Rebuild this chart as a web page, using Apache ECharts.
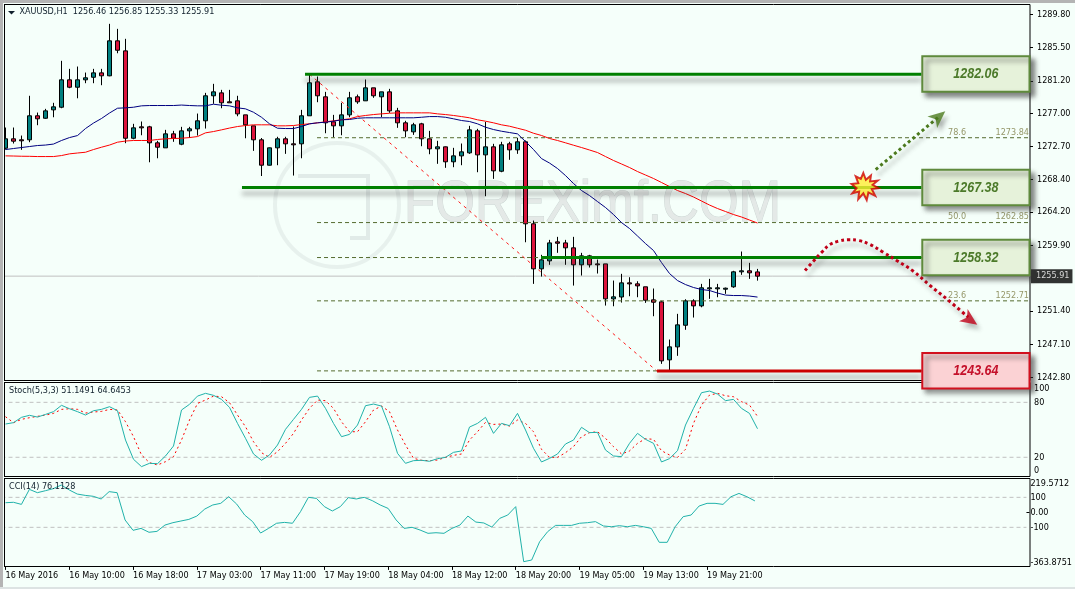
<!DOCTYPE html>
<html>
<head>
<meta charset="utf-8">
<title>XAUUSD H1</title>
<script src="https://cdn.jsdelivr.net/npm/echarts@6/dist/echarts.min.js"></script>
<style>
html,body{margin:0;padding:0;background:#f5fffa;overflow:hidden}
#chart{width:1075px;height:589px}
</style>
</head>
<body>
<div id="chart"></div>
<script>
// Hourly XAUUSD candles
const opens = [1272.48,1273.70,1273.57,1273.57,1276.68,1276.36,1277.45,1277.79,1281.34,1280.38,
1281.34,1281.67,1282.24,1281.86,1286.39,1285.09,1273.77,1275.25,1275.25,1273.18,
1272.53,1274.34,1273.00,1274.73,1274.99,1276.03,1279.27,1279.65,1278.49,1278.62,
1276.80,1275.38,1273.57,1270.28,1272.53,1273.70,1273.05,1273.05,1276.68,1281.08,
1279.14,1275.90,1275.38,1276.80,1279.14,1278.62,1280.30,1279.14,1279.78,1277.32,
1275.77,1274.60,1275.64,1273.70,1272.40,1272.66,1270.72,1271.49,1271.88,1274.73,
1271.62,1272.66,1269.50,1273.05,1272.27,1273.31,1262.69,1256.86,1257.89,1260.35,
1260.22,1259.58,1257.38,1258.54,1257.50,1257.50,1252.97,1253.21,1255.04,1254.91,
1254.53,1252.84,1252.58,1245.07,1246.75,1249.55,1252.71,1252.06,1254.27,1254.27,
1254.22,1254.53,1256.47,1256.60,1256.46];
const closes = [1273.70,1273.39,1273.44,1276.68,1276.29,1277.32,1277.84,1281.34,1280.38,1281.34,
1281.60,1282.24,1281.86,1286.39,1285.17,1273.77,1275.12,1275.12,1273.18,1272.61,
1274.34,1273.77,1274.73,1274.99,1276.03,1279.27,1279.78,1278.36,1278.36,1276.93,
1275.51,1273.57,1270.28,1272.53,1273.70,1273.05,1272.92,1276.68,1280.95,1279.27,
1275.77,1275.38,1276.80,1279.01,1278.49,1280.30,1279.27,1279.78,1277.32,1275.77,
1274.73,1275.51,1273.70,1272.40,1272.66,1270.72,1271.49,1272.01,1274.86,1271.62,
1272.66,1269.55,1272.92,1272.27,1273.31,1262.69,1256.86,1258.02,1260.22,1260.17,
1259.58,1257.38,1258.54,1257.38,1257.38,1252.97,1253.23,1255.04,1254.91,1254.65,
1252.79,1252.53,1244.94,1246.75,1249.60,1252.71,1252.06,1254.40,1254.40,1254.40,
1254.35,1256.47,1256.60,1256.34,1255.91];
const lows = [1272.31,1273.09,1272.27,1273.26,1275.46,1276.29,1276.49,1277.66,1280.25,1278.95,
1280.90,1280.90,1280.64,1281.80,1284.78,1273.13,1273.64,1274.16,1270.66,1271.18,
1272.53,1273.31,1272.87,1273.83,1274.12,1275.03,1278.23,1277.66,1278.36,1276.62,
1273.77,1272.14,1268.88,1270.24,1270.28,1271.75,1268.94,1271.18,1276.68,1278.44,
1274.42,1273.90,1274.16,1276.49,1278.23,1278.60,1279.01,1276.49,1277.06,1275.12,
1273.90,1274.21,1272.74,1271.70,1270.46,1269.94,1270.02,1270.28,1271.75,1269.37,
1266.26,1268.51,1269.37,1270.98,1271.75,1260.30,1254.91,1255.86,1257.38,1258.93,
1257.38,1254.69,1255.99,1257.03,1256.25,1252.10,1252.01,1252.49,1253.31,1253.18,
1252.45,1250.72,1244.55,1243.64,1245.59,1248.96,1250.55,1251.88,1252.97,1253.18,
1253.62,1254.40,1256.08,1255.56,1255.33];
const highs = [1275.16,1275.16,1274.12,1279.27,1277.10,1277.58,1278.36,1283.80,1282.76,1283.06,
1282.28,1282.76,1282.76,1288.59,1287.94,1286.65,1275.64,1275.94,1275.38,1273.44,
1274.86,1274.73,1275.25,1275.25,1276.97,1279.65,1280.82,1280.04,1280.04,1279.27,
1276.80,1275.38,1273.80,1272.57,1273.96,1273.96,1275.29,1277.45,1282.06,1281.77,
1279.78,1276.80,1278.36,1279.78,1279.43,1281.38,1280.30,1279.78,1280.17,1277.71,
1276.03,1275.77,1275.77,1274.73,1273.44,1272.70,1272.53,1273.09,1275.38,1274.99,
1275.90,1273.05,1273.31,1273.31,1273.83,1273.48,1263.11,1258.67,1260.61,1261.00,
1260.61,1261.00,1258.93,1258.67,1258.06,1257.50,1255.34,1256.21,1255.77,1255.25,
1254.53,1254.31,1252.71,1247.70,1251.03,1252.92,1252.92,1254.91,1255.56,1254.91,
1254.43,1256.60,1259.10,1257.63,1256.85];

// Moving averages on price
const maFast = [1272.31,1272.44,1272.57,1272.70,1272.83,1272.89,1273.02,1273.48,1273.86,1274.12,
1275.03,1275.74,1276.33,1277.04,1277.66,1277.71,1277.79,1277.97,1278.01,1278.01,
1278.01,1278.01,1278.07,1278.01,1277.97,1277.97,1278.18,1278.05,1277.97,1277.71,
1277.58,1277.14,1276.49,1275.64,1275.07,1275.03,1275.03,1275.29,1275.64,1275.77,
1275.85,1275.98,1276.16,1276.20,1276.36,1276.42,1276.42,1276.42,1276.42,1276.42,
1276.42,1276.42,1276.49,1276.58,1276.58,1276.49,1276.29,1276.07,1275.94,1275.64,
1275.20,1274.90,1274.68,1274.51,1274.34,1273.35,1272.31,1271.14,1270.56,1269.85,
1268.94,1267.91,1267.00,1266.35,1265.57,1264.80,1263.89,1262.85,1262.08,1261.11,
1260.13,1259.23,1257.67,1256.25,1255.34,1254.82,1254.44,1254.18,1254.05,1253.72,
1253.46,1253.40,1253.40,1253.33,1253.20];
const maSlow = [1271.49,1271.47,1271.44,1271.43,1271.40,1271.40,1271.40,1271.53,1271.75,1271.86,
1271.96,1272.31,1272.61,1272.89,1273.26,1273.41,1273.48,1273.48,1273.48,1273.61,
1273.70,1273.74,1273.77,1273.86,1273.99,1274.47,1274.64,1274.86,1275.09,1275.29,
1275.42,1275.51,1275.51,1275.51,1275.38,1275.38,1275.42,1275.55,1275.64,1275.77,
1275.90,1276.03,1276.16,1276.29,1276.58,1276.72,1276.84,1276.93,1277.01,1277.06,
1277.06,1277.06,1277.06,1277.06,1276.93,1276.84,1276.72,1276.58,1276.42,1276.16,
1275.98,1275.77,1275.51,1275.33,1275.07,1274.81,1274.42,1274.13,1273.74,1273.48,
1273.18,1272.87,1272.57,1272.25,1271.92,1271.40,1270.89,1270.44,1269.98,1269.46,
1269.01,1268.56,1268.04,1267.52,1267.00,1266.61,1266.16,1265.64,1265.12,1264.67,
1264.28,1263.89,1263.57,1263.18,1262.79];

// Stochastic(5,3,3)
const stochMain = [56.3,57.8,63.6,65.8,63.9,66.8,69.8,76.7,73.0,69.8,
66.1,70.8,72.3,75.2,70.8,38.8,17.8,9.8,13.4,13.0,
21.4,32.3,71.6,77.8,86.8,89.8,87.6,83.2,74.5,57.0,
40.7,23.6,16.7,22.5,33.4,50.5,61.4,72.3,85.4,86.8,
73.4,57.0,42.5,45.0,55.2,76.3,78.1,75.9,53.4,24.3,
13.4,16.3,16.7,15.6,18.5,19.9,25.4,26.9,53.0,57.0,
63.6,46.1,57.0,54.5,67.9,49.8,29.8,14.9,18.8,23.6,
34.5,38.8,52.7,46.9,47.2,27.9,21.4,20.7,35.2,46.1,
39.6,35.2,14.9,18.5,27.2,55.2,73.4,90.5,92.3,89.0,
81.8,83.2,73.4,67.9,51.15];
const stochSignal = [64.3,57.8,61.4,63.2,64.7,66.1,67.9,72.3,73.0,72.3,
68.3,69.4,70.1,72.3,71.6,58.8,42.5,22.5,14.1,11.6,
15.2,20.7,38.8,60.7,78.8,82.5,86.8,86.1,79.6,66.1,
53.4,37.0,25.0,19.9,26.1,35.2,46.1,60.7,73.4,82.5,
81.8,73.4,58.8,47.9,47.9,58.8,71.6,75.9,69.8,49.8,
33.4,18.9,16.7,16.3,17.0,19.9,22.1,23.6,38.8,47.9,
58.1,55.9,56.3,54.1,60.7,57.0,47.9,28.7,19.9,19.9,
25.0,31.6,42.5,46.9,47.9,40.7,31.6,23.6,26.9,35.2,
40.3,39.6,27.2,22.5,19.9,28.7,57.0,77.0,87.9,89.8,
87.2,86.1,80.7,77.0,64.65];

// CCI(14)
const cciValues = [64,67,53,153,131,144,158,182,149,122,
113,107,89,138,131,-51,-120,-107,-133,-127,
-85,-69,-58,-47,-25,22,49,60,104,55,
-18,-62,-138,-107,-73,-67,-73,4,100,93,
38,9,38,98,89,100,78,49,26,-51,
-107,-100,-118,-140,-136,-140,-107,-85,-25,-65,
-71,-98,-40,-18,38,-329,-318,-196,-129,-87,
-87,-87,-73,-69,-62,-91,-96,-89,-96,-87,
-96,-107,-200,-200,-96,-29,-18,42,60,60,
53,104,126,104,76.11];

// Axis ticks and time labels
const priceTicks = [1289.80,1285.50,1281.20,1277.00,1272.70,1268.40,1264.20,1259.90,1251.40,1247.10,1242.80];
const stochTicks = [0,20,80,100];
const cciTicks = [-363.8751,-100,0,100,219.5712];
const timeLabels = ['16 May 2016','16 May 10:00','16 May 18:00','17 May 03:00','17 May 11:00','17 May 19:00',
  '18 May 04:00','18 May 12:00','18 May 20:00','19 May 05:00','19 May 13:00','19 May 21:00'];

// Support and resistance levels, with the bar where each starts
const levelPrices = [1282.06,1267.38,1258.32,1243.64];
const levelStartBars = [37.44,29.56,66.94,81.44];
const levelEndBar = 114.5;
const boxRightBar = 128.0;
const frameRightBar = 128.06;

// Fibonacci retracement
const fibPrices = [1273.84,1262.85,1258.32,1252.71,1243.64];
const fibStartBar = 38.94;
const fibLabels = [['78.6',1273.84],['50.0',1262.85],['23.6',1252.71]];
const fibTrendBars = [38,81.4];
const fibTrendPrices = [1282.06,1243.64];

// Scenario arrows
const upArrowBars = [108.78,116.56];
const upArrowPrices = [1269.72,1276.46];
const downArrowBars = [99.94,100.98,102.03,103.06,104.1,105.35,106.6,108.06,109.72,111.4,113.48,115.56,117.65,120.35];
const downArrowPrices = [1256.64,1257.84,1259.01,1260.01,1260.43,1260.62,1260.53,1260.01,1259.01,1257.93,1256.55,1254.70,1252.97,1250.59];
const burstAt = [107.44,1267.52];
const lastPrice = 1255.91;

const FONT = '"DejaVu Sans Condensed", "Liberation Sans", Arial, sans-serif';
const BOX_FONT = '"Liberation Sans", Arial, sans-serif';
const AXIS_SIZE = 9;
const barNames = Array.from({length:129},(_,i)=>String(i));
const pair = (xs,ys)=>xs.map((x,i)=>[x,ys[i]]);
const seq = ys=>ys.map((y,i)=>[i,y]);

const valueX = (gridIndex, extra) => Object.assign({
  type:'value', gridIndex, min:-0.5, max:128.5, show:false, splitLine:{show:false}, axisLine:{show:false,onZero:false}
}, extra || {});

function segment(xAxisIndex, yAxisIndex, data, lineStyle, z) {
  return {type:'line', xAxisIndex, yAxisIndex, data, symbol:'none', silent:true, lineStyle, z: z || 3};
}

const series = [];

// Guides and price marks, back to front
series.push(segment(1,0,[[-0.5,lastPrice],[frameRightBar,lastPrice]],{color:'#c0c0c0',width:1},1));
fibPrices.forEach(p=>series.push(segment(1,0,[[fibStartBar,p],[frameRightBar,p]],{color:'#556b2f',width:1,type:[4,3]},4)));
series.push(segment(1,0,pair(fibTrendBars,fibTrendPrices),{color:'#ff1a1a',width:1,type:[3,4]},4));

series.push({
  type:'candlestick', xAxisIndex:0, yAxisIndex:0, barWidth:5, silent:true, z:2,
  data:opens.map((o,i)=>[o,closes[i],lows[i],highs[i]]),
  itemStyle:{color:'#008080',color0:'#dc143c',borderColor:'#000',borderColor0:'#000',borderWidth:1}
});
series.push(segment(0,0,maSlow,{color:'#ff0000',width:1},5));
series.push(segment(0,0,maFast,{color:'#000080',width:1},5));

// Level lines with their soft drop shadow
levelPrices.forEach((p,i)=>{
  series.push(segment(1,0,[[levelStartBars[i],p],[levelEndBar,p]],{
    color:i===3?'#cc0000':'#008000',width:3,
    shadowColor:'rgba(60,60,60,0.45)',shadowBlur:5,shadowOffsetY:6
  },6));
});

// Scenario arrows
const arrowShadow = {shadowColor:'rgba(60,60,60,0.4)',shadowBlur:4,shadowOffsetX:3,shadowOffsetY:5};
series.push(segment(1,0,pair(upArrowBars,upArrowPrices),Object.assign({color:'#4c7a1e',width:3,type:[3,3]},arrowShadow),7));
series.push(Object.assign(segment(1,0,pair(downArrowBars,downArrowPrices),Object.assign({color:'#c00018',width:3,type:[3,3]},arrowShadow),7),{smooth:0.4}));
series.push({
  type:'scatter', xAxisIndex:1, yAxisIndex:0, silent:true, z:8,
  symbol:'path://M0,-10 L8,9 L0,4 L-8,9 Z',
  data:[
    {value:[upArrowBars[1]+0.1,upArrowPrices[1]+0.1],symbolSize:[15,17],symbolRotate:-50,itemStyle:{color:'#4c7a1e'}},
    {value:[downArrowBars[13]+0.25,downArrowPrices[13]-0.35],symbolSize:[15,17],symbolRotate:-125,itemStyle:{color:'#c00018'}}
  ],
  itemStyle:arrowShadow
});
// Breakout burst
series.push({
  type:'scatter', xAxisIndex:1, yAxisIndex:0, silent:true, z:9,
  symbol:'path://M13,0 L16,8 L22,3 L21,10 L30,9 L24,14 L31,18 L23,19 L27,27 L19,23 L17,32 L13,24 L7,31 L8,22 L0,24 L5,18 L-1,13 L7,12 L4,4 L10,7 Z',
  symbolSize:[27,27],
  data:[burstAt],
  itemStyle:{color:'#ffee33',borderColor:'#d00000',borderWidth:2}
});

// Fibonacci captions
series.push({
  type:'scatter', xAxisIndex:1, yAxisIndex:0, silent:true, z:6, symbolSize:0,
  data:fibLabels.flatMap(([pct,price])=>[
    {value:[118.94,price],label:{formatter:pct,align:'center'}},
    {value:[127.94,price],label:{formatter:price.toFixed(2),align:'right'}}
  ]),
  label:{show:true,position:'top',distance:1,color:'#7d7d45',fontSize:AXIS_SIZE,fontFamily:FONT}
});

// Last price tag on the axis
series.push({
  type:'scatter', xAxisIndex:1, yAxisIndex:0, silent:true, z:6, symbolSize:0, clip:false,
  data:[[frameRightBar,lastPrice]],
  label:{show:true,position:'right',distance:1,formatter:lastPrice.toFixed(2),color:'#fff',backgroundColor:'#000',
    padding:[3,3,2,5],fontSize:AXIS_SIZE,fontFamily:FONT}
});

// Value boxes at the end of each level line
series.push({
  type:'custom', xAxisIndex:1, yAxisIndex:0, silent:true, z:10, clip:false,
  data:levelPrices.map(p=>[levelEndBar+0.1,boxRightBar,p]),
  encode:{x:[0,1],y:2},
  renderItem(params,api){
    const a = api.coord([api.value(0),api.value(2)]);
    const b = api.coord([api.value(1),api.value(2)]);
    const red = params.dataIndex === 3;
    return {type:'group',children:[
      {type:'rect',shape:{x:a[0],y:a[1]-17.9,width:b[0]-a[0],height:35.5},
       style:{fill:red?'#fbd2d4':'#e6f2da',stroke:red?'#d2101e':'#5f8a3c',lineWidth:2,
              shadowColor:'rgba(50,50,50,0.6)',shadowBlur:5,shadowOffsetX:4,shadowOffsetY:4}},
      {type:'text',x:(a[0]+b[0])/2,y:a[1],scaleX:0.86,
       style:{text:api.value(2).toFixed(2),x:0,y:0,align:'center',verticalAlign:'middle',
       font:'italic bold 14.5px '+BOX_FONT,fill:red?'#c4102a':'#4c7a2a'}}
    ]};
  }
});

// Stochastic pane
series.push(segment(2,1,[[-0.5,80],[frameRightBar,80]],{color:'#c0c0c0',width:1,type:[4,3]},1));
series.push(segment(2,1,[[-0.5,20],[frameRightBar,20]],{color:'#c0c0c0',width:1,type:[4,3]},1));
series.push(segment(2,1,seq(stochSignal),{color:'#ff0000',width:1,type:[2,3]},3));
series.push(segment(2,1,seq(stochMain),{color:'#20b2aa',width:1},4));

// CCI pane
series.push(segment(3,2,[[-0.5,100],[frameRightBar,100]],{color:'#c0c0c0',width:1,type:[4,3]},1));
series.push(segment(3,2,[[-0.5,-100],[frameRightBar,-100]],{color:'#c0c0c0',width:1,type:[4,3]},1));
series.push(segment(3,2,seq(cciValues),{color:'#20b2aa',width:1},4));

const yAxisBase = (gridIndex,min,max,ticks,formatter,margin,extraLabel,tickValues)=>({
  type:'value', gridIndex, position:'right', offset:-3.5, min, max,
  splitLine:{show:false}, axisLine:{show:false,onZero:false},
  axisTick:{show:true,length:3,inside:false,lineStyle:{color:'#000'},customValues:tickValues||ticks},
  axisLabel:Object.assign({show:true,customValues:ticks,formatter,margin,color:'#000',fontSize:AXIS_SIZE,fontFamily:FONT,
    showMinLabel:true,showMaxLabel:true,hideOverlap:false},extraLabel||{})
});

const titleStyle = {fontSize:AXIS_SIZE,fontWeight:'normal',fontFamily:FONT,color:'#10202c'};

const option = {
  animation:false,
  backgroundColor:'#f5fffa',
  title:[
    {text:'XAUUSD,H1  '+[opens[94],highs[94],lows[94],closes[94]].map(v=>v.toFixed(2)).join(' '),left:19.5,top:7.5,padding:0,textStyle:titleStyle},
    {text:'Stoch(5,3,3) '+(51.1491).toFixed(4)+' '+(64.6453).toFixed(4),left:9,top:386.5,padding:0,textStyle:titleStyle},
    {text:'CCI(14) '+(76.1128).toFixed(4),left:9,top:482.5,padding:0,textStyle:titleStyle}
  ],
  grid:[
    {left:1.5,top:5,width:1032,height:376},
    {left:1.5,top:384,width:1032,height:91.6},
    {left:1.5,top:479.4,width:1032,height:87.5}
  ],
  xAxis:[
    {type:'category',gridIndex:0,data:barNames,show:false,boundaryGap:true},
    valueX(0),
    valueX(1),
    valueX(2,{show:true,
      axisTick:{show:true,length:3,lineStyle:{color:'#000'},customValues:timeLabels.map((_,i)=>i*8)},
      axisLabel:{show:true,customValues:timeLabels.map((_,i)=>i*8),formatter:v=>timeLabels[Math.round(v/8)],
        align:'left',margin:4,color:'#000',fontSize:AXIS_SIZE,fontFamily:FONT,showMinLabel:true,showMaxLabel:true,hideOverlap:false}})
  ],
  yAxis:[
    yAxisBase(0,1242.33,1291.03,priceTicks,v=>v.toFixed(2),7),
    yAxisBase(1,0,100,stochTicks,v=>String(v),4,{verticalAlignMinLabel:'bottom',verticalAlignMaxLabel:'top'},[]),
    yAxisBase(2,-363.8751,219.5712,cciTicks,v=>(v===0?'0.00':String(v)),4,{verticalAlignMinLabel:'bottom',verticalAlignMaxLabel:'top'},[0])
  ],
  graphic:{elements:[
    // Watermark
    {type:'circle',shape:{cx:337,cy:205,r:62},style:{fill:'none',stroke:'rgba(190,198,198,0.25)',lineWidth:4},z:0,silent:true},
    {type:'polyline',shape:{points:[[298,176],[368,176],[368,238],[350,238]]},style:{fill:'none',stroke:'rgba(190,198,198,0.35)',lineWidth:4},z:0,silent:true},
    {type:'text',x:404,y:205,scaleX:0.88,z:0,silent:true,
      style:{text:'FOREXimf.COM',font:'58px "Liberation Sans", Arial, sans-serif',fill:'#e4e9e7',stroke:'rgba(170,178,178,0.55)',lineWidth:1,verticalAlign:'middle',
             shadowColor:'rgba(120,130,130,0.35)',shadowBlur:3,shadowOffsetY:3}},
    // Pane frames
    {type:'rect',shape:{x:4.5,y:4.5,width:1025.5,height:376},style:{fill:'none',stroke:'#000',lineWidth:1},z:1,silent:true},
    {type:'rect',shape:{x:4.5,y:382.5,width:1025.5,height:94},style:{fill:'none',stroke:'#000',lineWidth:1},z:1,silent:true},
    {type:'rect',shape:{x:4.5,y:478.5,width:1025.5,height:88},style:{fill:'none',stroke:'#000',lineWidth:1},z:1,silent:true},
    // Window edge, covering anything left of the pane frames
    {type:'rect',shape:{x:0,y:0,width:4,height:589},style:{fill:'#f5fffa'},z:40,silent:true},
    {type:'rect',shape:{x:0,y:0,width:3,height:589},style:{fill:'#b4b4b4'},z:41,silent:true},
    {type:'rect',shape:{x:0,y:0,width:1075,height:3},style:{fill:'#b4b4b4'},z:41,silent:true},
    {type:'rect',shape:{x:0,y:587,width:1075,height:2},style:{fill:'#dde3e3'},z:41,silent:true},
    {type:'line',shape:{x1:4.5,y1:4,x2:4.5,y2:381},style:{stroke:'#000',lineWidth:1},z:42,silent:true},
    {type:'line',shape:{x1:4.5,y1:382,x2:4.5,y2:477},style:{stroke:'#000',lineWidth:1},z:42,silent:true},
    {type:'line',shape:{x1:4.5,y1:478,x2:4.5,y2:567},style:{stroke:'#000',lineWidth:1},z:42,silent:true},
    // Chart menu marker
    {type:'polygon',shape:{points:[[8,11],[15,11],[11.5,14.5]]},style:{fill:'#10202c'},z:42,silent:true}
  ]},
  series
};

echarts.init(document.getElementById('chart'),null,{renderer:'canvas'}).setOption(option);
</script>
</body>
</html>
